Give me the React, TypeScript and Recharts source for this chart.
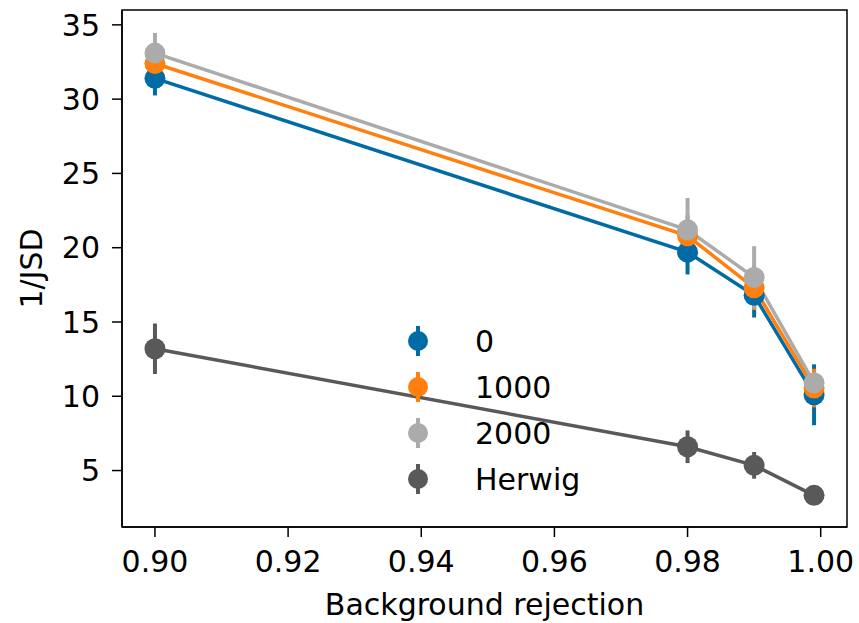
import { ErrorBar, Legend, Line, LineChart, ReferenceArea, XAxis, YAxis } from "recharts";

const rejection = [0.9, 0.98, 0.99, 0.999];

const jsd0 = [31.4, 19.7, 16.8, 10.1];
const err0 = [1.15, 1.5, 1.5, 2.05];
const jsd1000 = [32.4, 20.8, 17.3, 10.55];
const err1000 = [1.1, 1.4, 1.5, 1.3];
const jsd2000 = [33.1, 21.2, 18.0, 10.9];
const err2000 = [1.35, 2.15, 2.1, 0.7];
const jsdHerwig = [13.2, 6.6, 5.35, 3.33];
const errHerwig = [1.7, 1.1, 0.9, 0.15];

const xTicks = [0.9, 0.92, 0.94, 0.96, 0.98, 1.0];
const yTicks = [5, 10, 15, 20, 25, 30, 35];

const series = [
  { key: "s0", name: "0", color: "#006BA4", values: jsd0, errors: err0 },
  { key: "s1000", name: "1000", color: "#FF800E", values: jsd1000, errors: err1000 },
  { key: "s2000", name: "2000", color: "#ABABAB", values: jsd2000, errors: err2000 },
  { key: "herwig", name: "Herwig", color: "#595959", values: jsdHerwig, errors: errHerwig },
];

const xDomain: [number, number] = [0.89505, 1.00395];
const yDomain: [number, number] = [1.2, 36];

const chartData = rejection.map((x, i) => {
  const row: Record<string, number> = { x };
  series.forEach((s) => {
    row[s.key] = s.values[i];
    row[s.key + "Err"] = s.errors[i];
  });
  return row;
});

const font = "'DejaVu Sans', sans-serif";
const fontSize = 30;

function LegendBox({ payload }: any) {
  return (
    <div style={{ fontFamily: font, fontSize, color: "#000" }}>
      {(payload || []).map((item: any) => (
        <div key={item.value} style={{ display: "flex", alignItems: "center", height: 46 }}>
          <svg width={40} height={36} style={{ marginRight: 37 }}>
            <line x1={20} x2={20} y1={3} y2={33} stroke={item.color} strokeWidth={4} />
            <circle cx={20} cy={18} r={10} fill={item.color} />
          </svg>
          <span>{item.value}</span>
        </div>
      ))}
    </div>
  );
}

export default function App() {
  return (
    <div style={{ position: "absolute", left: 0, top: 0, background: "#fff" }}>
      <LineChart
        width={859}
        height={623}
        data={chartData}
        margin={{ top: 10, right: 12, bottom: 0, left: 0 }}
        style={{ fontFamily: font }}
      >
        <XAxis
          dataKey="x"
          type="number"
          domain={xDomain}
          ticks={xTicks}
          allowDataOverflow
          tickFormatter={(v: number) => v.toFixed(2)}
          height={96}
          tickSize={10}
          tickMargin={14}
          stroke="#000"
          strokeWidth={1.5}
          tick={{ fill: "#000", fontSize }}
          label={{ value: "Background rejection", position: "insideBottom", offset: 8, fill: "#000", fontSize }}
        />
        <YAxis
          type="number"
          domain={yDomain}
          ticks={yTicks}
          allowDataOverflow
          width={122}
          tickSize={10}
          tickMargin={12}
          stroke="#000"
          strokeWidth={1.5}
          tick={{ fill: "#000", fontSize }}
          label={{ value: "1/JSD", angle: -90, position: "center", dx: -30, fill: "#000", fontSize }}
        />
        <ReferenceArea
          x1={xDomain[0]}
          x2={xDomain[1]}
          y1={yDomain[0]}
          y2={yDomain[1]}
          fill="none"
          stroke="#000"
          strokeWidth={1.5}
          ifOverflow="visible"
        />
        {series.map((s) => (
          <Line
            key={s.key}
            dataKey={s.key}
            name={s.name}
            stroke={s.color}
            strokeWidth={3.5}
            dot={{ r: 10.5, fill: s.color, stroke: s.color, strokeWidth: 0 }}
            activeDot={false}
            isAnimationActive={false}
          >
            <ErrorBar
              dataKey={s.key + "Err"}
              direction="y"
              width={0}
              stroke={s.color}
              strokeWidth={4}
              isAnimationActive={false}
            />
          </Line>
        ))}
        <Legend
          layout="vertical"
          align="center"
          verticalAlign="middle"
          content={<LegendBox />}
          wrapperStyle={{ position: "absolute", left: 398, top: 318, width: 220 }}
        />
      </LineChart>
    </div>
  );
}
